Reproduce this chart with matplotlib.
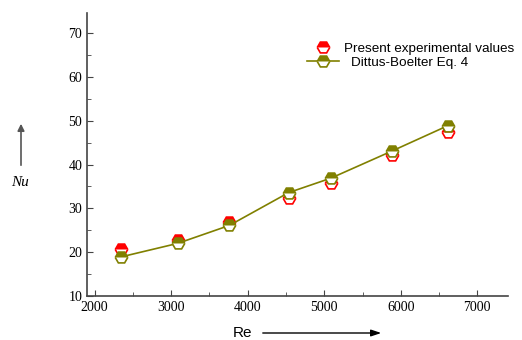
import numpy as np
import matplotlib.pyplot as plt
import matplotlib as mpl
from matplotlib.ticker import MultipleLocator

mpl.rcParams["font.family"] = "Liberation Serif"

# values
re_vals = [2338, 3083, 3759, 4535, 5087, 5886, 6618]
nu_exp = [20.7, 22.8, 27.0, 32.3, 35.7, 42.2, 47.5]
nu_db = [18.9, 22.0, 26.1, 33.6, 36.9, 43.1, 48.9]

red = "#ff0000"
olive = "#808000"

fig = plt.figure(figsize=(5.22, 3.4), dpi=100)
ax = fig.add_axes([0.1667, 0.1294, 0.8063, 0.8324])

h_exp, = ax.plot(re_vals, nu_exp, ls="none", marker="H", ms=9, fillstyle="top",
                 color=red, markerfacecoloralt="white", mec=red, mew=1.2,
                 label="Present experimental values")
h_db, = ax.plot(re_vals, nu_db, ls="-", lw=1.2, color=olive, marker="H", ms=9,
                fillstyle="top", markerfacecoloralt="white", mec=olive, mew=1.2,
                label="Dittus-Boelter Eq. 4")

ax.set_xlim(1900, 7400)
ax.set_ylim(10, 74.6)
ax.set_xticks([2000, 3000, 4000, 5000, 6000, 7000])
ax.set_yticks([10, 20, 30, 40, 50, 60, 70])
ax.xaxis.set_minor_locator(MultipleLocator(500))
ax.yaxis.set_minor_locator(MultipleLocator(5))
ax.tick_params(which="both", direction="in", labelsize=10, color="#444444")
ax.tick_params(which="major", length=4)
ax.tick_params(which="minor", length=3)

for s in ["top", "right"]:
    ax.spines[s].set_visible(False)
for s in ["left", "bottom"]:
    ax.spines[s].set_color("#444444")
    ax.spines[s].set_linewidth(1.2)

# two legends so the entries can sit with their own offsets, like the original
lprop = {"family": "Liberation Sans", "size": 9.7}
leg1 = fig.legend(handles=[h_exp], loc="center left",
                  bbox_to_anchor=(307 / 522, 1 - 49 / 340), frameon=False,
                  prop=lprop, handlelength=2.4, handletextpad=0.34,
                  borderpad=0, borderaxespad=0)
leg2 = fig.legend(handles=[h_db], loc="center left",
                  bbox_to_anchor=(307 / 522, 1 - 63 / 340), frameon=False,
                  prop=lprop, handlelength=2.4, handletextpad=0.85,
                  borderpad=0, borderaxespad=0)

# axis labels with arrows
fig.text(20 / 522, 1 - 183 / 340, "Nu", fontsize=11, style="italic",
         ha="center", va="center")
fig.text(243 / 522, 1 - 333 / 340, "Re", fontsize=11,
         family="Liberation Sans", ha="center", va="center")
fig.add_artist(mpl.patches.FancyArrowPatch(
    (21 / 522, 1 - 168 / 340), (21 / 522, 1 - 121 / 340),
    transform=fig.transFigure, arrowstyle="-|>,head_length=4,head_width=2",
    color="#555555", lw=1.2, mutation_scale=1))
fig.add_artist(mpl.patches.FancyArrowPatch(
    (260 / 522, 1 - 333 / 340), (384 / 522, 1 - 333 / 340),
    transform=fig.transFigure, arrowstyle="-|>,head_length=6,head_width=2",
    color="black", lw=1.0, mutation_scale=1))

fig.savefig("out.png", dpi=100)
